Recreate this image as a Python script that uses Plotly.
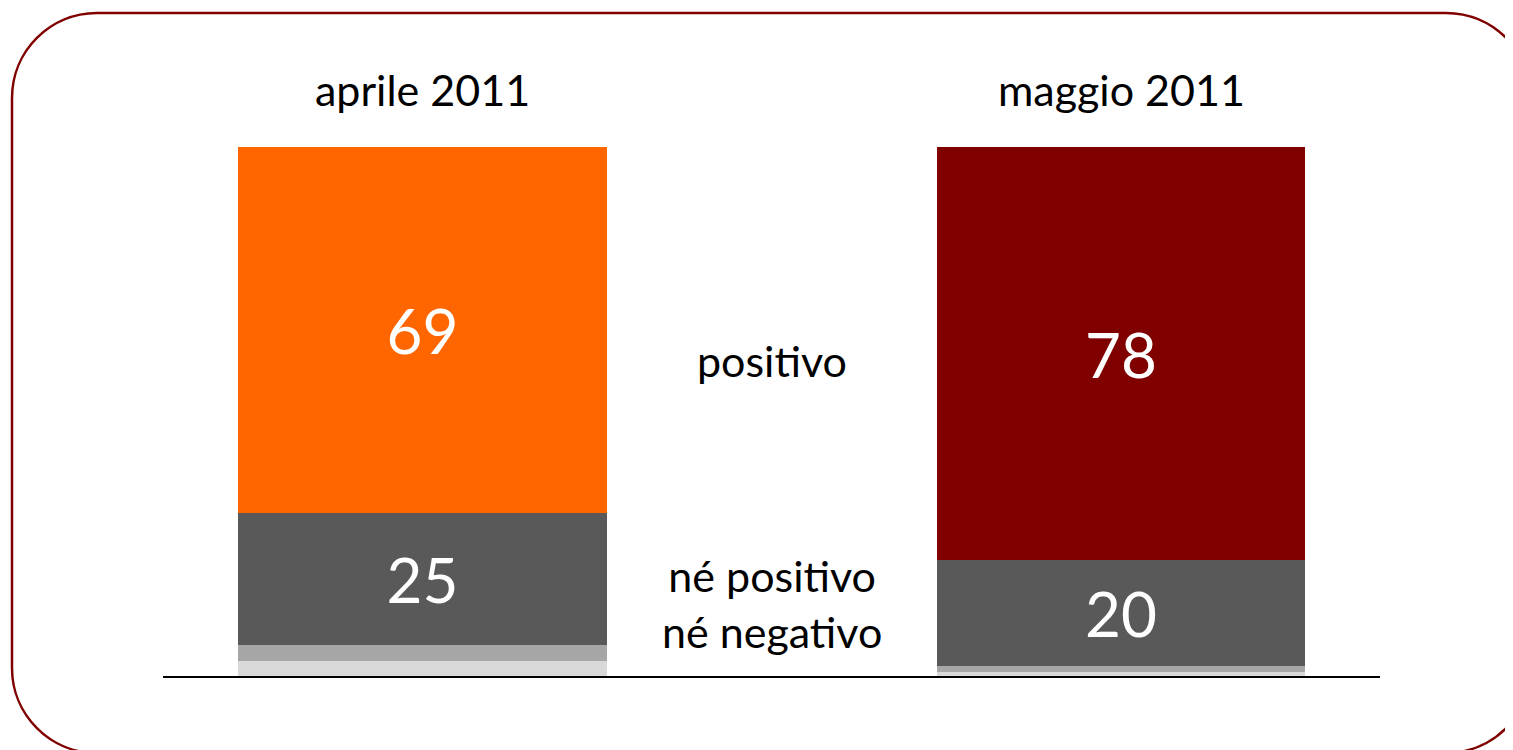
import plotly.graph_objects as go

# page body adds an 8px margin; figure pixels = screen pixels - OFF
OFF = 8
W, H = 1513 - OFF, 750 - OFF

# ---- data ----
periods = ["aprile 2011", "maggio 2011"]
positivo = [69, 78]
neutro = [25, 20]
negativo = [3, 1]
non_sa = [3, 1]
row_labels = ["positivo", "né positivo<br>né negativo"]

pos_colors = ["#FF6600", "#800000"]
FONT = "Lato"

x = [0, 1]
bar_w = 0.528

fig = go.Figure()
fig.add_trace(go.Bar(x=x, y=non_sa, width=bar_w, marker=dict(color="#D9D9D9", line=dict(width=0)),
                     hoverinfo="skip"))
fig.add_trace(go.Bar(x=x, y=negativo, width=bar_w, marker=dict(color="#A6A6A6", line=dict(width=0)),
                     hoverinfo="skip"))
fig.add_trace(go.Bar(x=x, y=neutro, width=bar_w, marker=dict(color="#595959", line=dict(width=0)),
                     text=[str(v) for v in neutro], textposition="inside", insidetextanchor="middle",
                     textfont=dict(family=FONT, size=62, color="white"), constraintext="none",
                     hoverinfo="skip"))
fig.add_trace(go.Bar(x=x, y=positivo, width=bar_w, marker=dict(color=pos_colors, line=dict(width=0)),
                     text=[str(v) for v in positivo], textposition="inside", insidetextanchor="middle",
                     textfont=dict(family=FONT, size=62, color="white"), constraintext="none",
                     hoverinfo="skip"))

# axis mapping (screen px): value 0 at py=677, 100 at py=147
ppu = 5.3
y0_px = 677 - OFF
yr = [-(H - y0_px) / ppu, y0_px / ppu]
cx0, cx1 = 422.5 - OFF, 1121 - OFF
ppx = cx1 - cx0
xr = [-cx0 / ppx, 1 + (W - cx1) / ppx]

annotations = []
for i, p in enumerate(periods):
    annotations.append(dict(x=x[i], y=(677 - 89) / ppu, xref="x", yref="y", text=p, showarrow=False,
                            font=dict(family=FONT, size=43, color="black")))
annotations.append(dict(x=0.5, y=(677 - 360) / ppu, xref="x", yref="y", text=row_labels[0],
                        showarrow=False, font=dict(family=FONT, size=43, color="black")))
annotations.append(dict(x=0.5, y=(677 - 603) / ppu, xref="x", yref="y", text=row_labels[1],
                        showarrow=False, font=dict(family=FONT, size=43, color="black")))

# rounded frame (screen pixel -> paper)
def P(px, py):
    return f"{(px - OFF) / W:.5f},{1 - (py - OFF) / H:.5f}"

L, T, R, B, r = 12, 13, 1531, 753, 85
k = 0.5523 * r
path = (f"M {P(L + r, T)} L {P(R - r, T)} "
        f"C {P(R - r + k, T)} {P(R, T + r - k)} {P(R, T + r)} "
        f"L {P(R, B - r)} "
        f"C {P(R, B - r + k)} {P(R - r + k, B)} {P(R - r, B)} "
        f"L {P(L + r, B)} "
        f"C {P(L + r - k, B)} {P(L, B - r + k)} {P(L, B - r)} "
        f"L {P(L, T + r)} "
        f"C {P(L, T + r - k)} {P(L + r - k, T)} {P(L + r, T)} Z")

shapes = [
    dict(type="path", xref="paper", yref="paper", path=path, line=dict(color="#800000", width=2.5)),
    dict(type="line", xref="x", yref="y", x0=(163 - 422.5) / ppx, x1=(1380 - 422.5) / ppx, y0=0, y1=0,
         line=dict(color="black", width=2)),
]

fig.update_layout(
    width=W, height=H, margin=dict(l=0, r=0, t=0, b=0),
    barmode="stack", showlegend=False, bargap=0,
    paper_bgcolor="white", plot_bgcolor="white",
    xaxis=dict(range=xr, visible=False, fixedrange=True),
    yaxis=dict(range=yr, visible=False, fixedrange=True),
    annotations=annotations, shapes=shapes,
)

fig.write_html("out.html")
